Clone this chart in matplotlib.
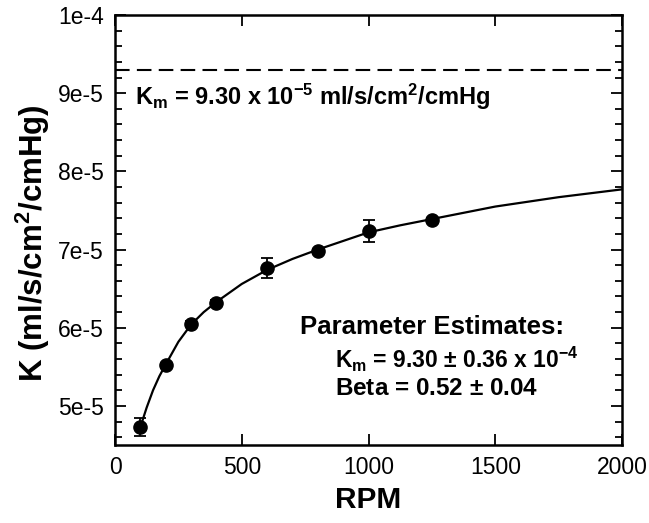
import numpy as np
import matplotlib
matplotlib.use('Agg')
import matplotlib.pyplot as plt

# ---- data ----
rpm   = [100, 200, 300, 400, 600, 800, 1000, 1250]
k     = [4.73e-5, 5.52e-5, 6.05e-5, 6.32e-5, 6.76e-5, 6.98e-5, 7.24e-5, 7.38e-5]
kerr  = [0.11e-5, 0.03e-5, 0.03e-5, 0.03e-5, 0.13e-5, 0.03e-5, 0.14e-5, 0.03e-5]

# fitted curve, read at selected RPM
fit_rpm = [100, 110, 125, 150, 175, 200, 250, 300, 350, 400, 500, 600, 700,
           800, 900, 1000, 1125, 1250, 1500, 1750, 2000]
fit_k   = [4.72e-5, 4.83e-5, 4.98e-5, 5.20e-5, 5.38e-5, 5.53e-5, 5.82e-5,
           6.04e-5, 6.20e-5, 6.33e-5, 6.56e-5, 6.74e-5, 6.88e-5, 7.00e-5,
           7.11e-5, 7.22e-5, 7.31e-5, 7.39e-5, 7.55e-5, 7.67e-5, 7.77e-5]

km = 9.30e-5

yticks  = [5e-5, 6e-5, 7e-5, 8e-5, 9e-5, 1e-4]
ylabels = ['5e-5', '6e-5', '7e-5', '8e-5', '9e-5', '1e-4']
xticks  = [0, 500, 1000, 1500, 2000]

plt.rcParams['font.family'] = ['Liberation Sans', 'DejaVu Sans']
plt.rcParams['mathtext.fontset'] = 'custom'
plt.rcParams['mathtext.rm'] = 'Liberation Sans:bold'
plt.rcParams['mathtext.it'] = 'Liberation Sans:bold'
plt.rcParams['mathtext.bf'] = 'Liberation Sans:bold'

fig = plt.figure(figsize=(6.49, 5.23), dpi=100)
ax = fig.add_axes([0.1772, 0.1491, 0.7812, 0.8222])

ax.axhline(km, color='k', lw=1.5, dashes=(7, 3.5))
ax.plot(fit_rpm, fit_k, 'k-', lw=1.6)
ax.errorbar(rpm, k, yerr=kerr, fmt='o', color='k', ms=9.5,
            capsize=4.5, elinewidth=1.3, capthick=1.3)

ax.set_xlim(0, 2000)
ax.set_ylim(4.5e-5, 1e-4)
ax.set_xticks(xticks)
ax.set_xticklabels([str(v) for v in xticks])
ax.set_yticks(yticks)
ax.set_yticklabels(ylabels)
ax.set_yticks(np.arange(46e-6, 100e-6, 2e-6), minor=True)

ax.tick_params(which='both', direction='in', top=True, right=True,
               labelsize=16.5, pad=8, width=1.3)
ax.tick_params(which='major', length=8)
ax.tick_params(which='minor', length=5)
for sp in ax.spines.values():
    sp.set_linewidth(1.8)

ax.set_xlabel('RPM', fontsize=21.5, fontweight='bold', labelpad=5)
ax.set_ylabel(r'K (ml/s/cm$^\mathbf{2}$/cmHg)', fontsize=22.5,
              fontweight='bold')
ax.yaxis.set_label_coords(-0.125, 0.47)

ax.text(77, 8.95e-5, r'K$_\mathbf{m}$ = 9.30 x 10$^\mathbf{-5}$ ml/s/cm$^\mathbf{2}$/cmHg',
        fontsize=17, fontweight='bold', va='center')
ax.text(730, 6.01e-5, 'Parameter Estimates:', fontsize=18.5,
        fontweight='bold', va='center')
ax.text(868, 5.6e-5, r'K$_\mathbf{m}$ = 9.30 $\pm$ 0.36 x 10$^\mathbf{-4}$',
        fontsize=16.5, fontweight='bold', va='center')
ax.text(868, 5.22e-5, r'Beta = 0.52 $\pm$ 0.04', fontsize=17.5,
        fontweight='bold', va='center')

fig.savefig('out.png', dpi=100)
